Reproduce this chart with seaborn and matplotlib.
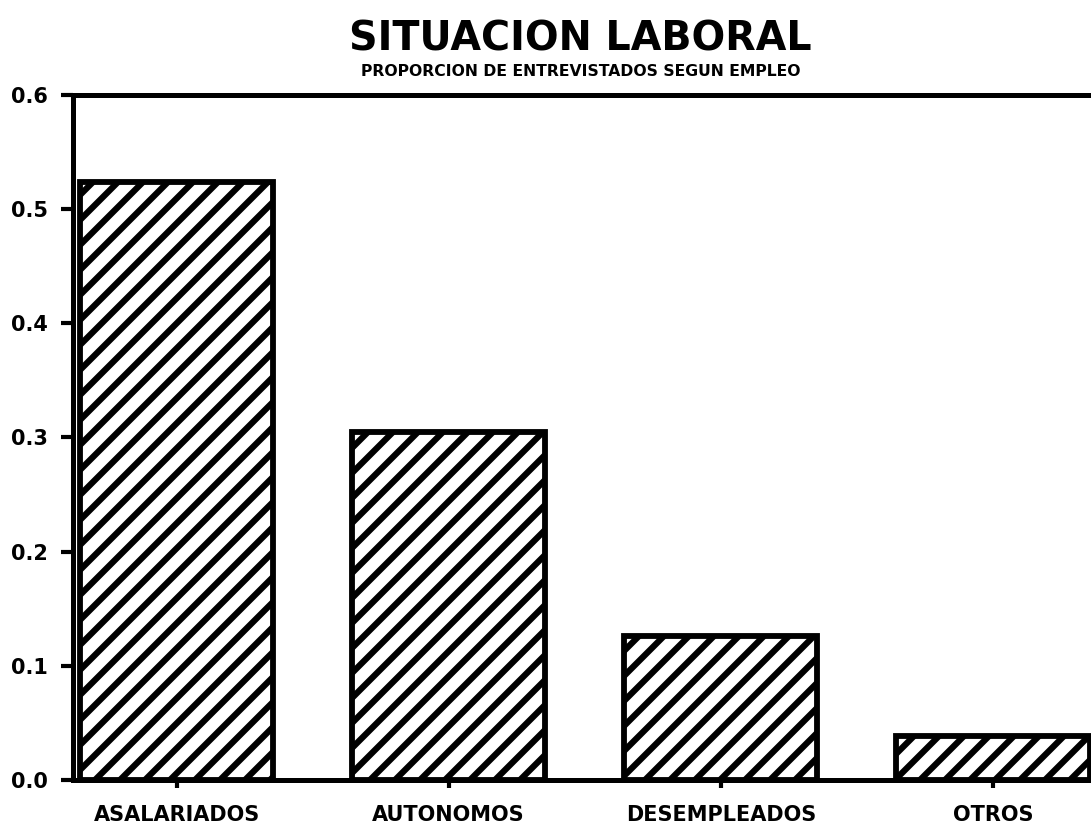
import seaborn as sns
import matplotlib.pyplot as plt
from matplotlib.ticker import FormatStrFormatter

# values (proportions, sum ~ 1)
categories = ['ASALARIADOS', 'AUTONOMOS', 'DESEMPLEADOS', 'OTROS']
proportions = [0.524, 0.305, 0.126, 0.038]
y_ticks = [0.0, 0.1, 0.2, 0.3, 0.4, 0.5, 0.6]

sns.set_style('white')
plt.rcParams['font.family'] = ['DejaVu Sans']
plt.rcParams['text.color'] = 'black'
plt.rcParams['xtick.color'] = 'black'
plt.rcParams['ytick.color'] = 'black'
plt.rcParams['hatch.linewidth'] = 3.0
plt.rcParams['hatch.color'] = 'black'

fig = plt.figure(figsize=(1091 / 150, 827 / 150), dpi=150)
ax = fig.add_axes([0.067, 0.057, 0.933, 0.828])

sns.barplot(x=categories, y=proportions, color='white', edgecolor='black',
            linewidth=2.8, hatch='//', width=0.71, ax=ax)

ax.set_xlim(-0.38, 3.36)
ax.set_ylim(0, 0.6)
ax.set_yticks(y_ticks)
ax.yaxis.set_major_formatter(FormatStrFormatter('%.1f'))
ax.set_xlabel('')
ax.set_ylabel('')

for side in ['left', 'top', 'bottom']:
    ax.spines[side].set_visible(True)
    ax.spines[side].set_linewidth(2.4)
    ax.spines[side].set_color('black')
ax.spines['right'].set_visible(False)

ax.tick_params(axis='y', direction='out', length=6, width=2, pad=6,
               labelsize=10, left=True, labelcolor='black')
ax.tick_params(axis='x', direction='out', length=4, width=2, pad=8,
               labelsize=10, bottom=True, labelcolor='black')
for lbl in ax.get_xticklabels() + ax.get_yticklabels():
    lbl.set_fontweight('bold')

fig.text(0.532, 0.952, 'SITUACION LABORAL', ha='center', va='center',
         fontsize=19, fontweight='heavy', color='black')
fig.text(0.532, 0.913, 'PROPORCION DE ENTREVISTADOS SEGUN EMPLEO',
         ha='center', va='center', fontsize=7.5, fontweight='bold',
         color='black')

fig.savefig('out.png', dpi=150)
